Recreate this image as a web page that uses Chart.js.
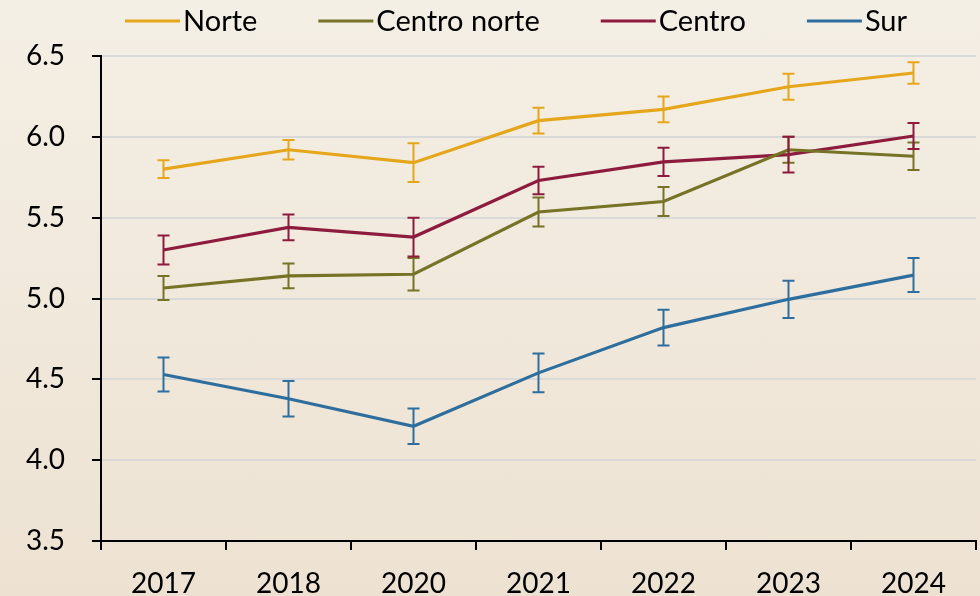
<!DOCTYPE html>
<html lang="es">
<head>
  <meta charset="UTF-8" />
  <title>Norte / Centro norte / Centro / Sur</title>
  <script src="https://cdn.jsdelivr.net/npm/chart.js"></script>
  <style>
    html, body {
      margin: 0;
      padding: 0;
    }
    body {
      width: 980px;
      height: 596px;
      background: linear-gradient(to bottom, #f4efe5 0%, #ede2d2 100%);
      overflow: hidden;
    }
    #wrap {
      position: relative;
      width: 980px;
      height: 596px;
    }
  </style>
</head>
<body>
  <div id="wrap"><canvas id="chart"></canvas></div>

  <script>
    const years = ['2017', '2018', '2020', '2021', '2022', '2023', '2024'];

    const norte = [5.80, 5.92, 5.84, 6.10, 6.17, 6.31, 6.395];
    const norteErr = [0.055, 0.06, 0.12, 0.08, 0.08, 0.08, 0.067];

    const centroNorte = [5.065, 5.14, 5.15, 5.535, 5.60, 5.92, 5.88];
    const centroNorteErr = [0.074, 0.077, 0.10, 0.09, 0.09, 0.08, 0.085];

    const centro = [5.30, 5.44, 5.38, 5.73, 5.845, 5.89, 6.005];
    const centroErr = [0.09, 0.08, 0.12, 0.085, 0.087, 0.11, 0.08];

    const sur = [4.53, 4.38, 4.21, 4.54, 4.82, 4.995, 5.145];
    const surErr = [0.105, 0.11, 0.11, 0.12, 0.11, 0.115, 0.105];

    const FONT = "Lato, 'Open Sans', sans-serif";

    function series(label, data, err, color) {
      return {
        label,
        data,
        err,
        borderColor: color,
        backgroundColor: color,
        borderWidth: 3.2,
        pointRadius: 0,
        pointHoverRadius: 0,
        tension: 0,
        fill: false
      };
    }

    // vertical error bars with small caps
    const errorBars = {
      id: 'errorBars',
      afterDatasetsDraw(chart) {
        const ctx = chart.ctx;
        const y = chart.scales.y;
        chart.data.datasets.forEach((ds, i) => {
          const meta = chart.getDatasetMeta(i);
          ctx.save();
          ctx.strokeStyle = ds.borderColor;
          ctx.lineWidth = 2;
          meta.data.forEach((pt, j) => {
            const v = ds.data[j];
            const e = ds.err[j];
            const top = y.getPixelForValue(v + e);
            const bot = y.getPixelForValue(v - e);
            const x = pt.x;
            ctx.beginPath();
            ctx.moveTo(x, top);
            ctx.lineTo(x, bot);
            ctx.moveTo(x - 6, top);
            ctx.lineTo(x + 6, top);
            ctx.moveTo(x - 6, bot);
            ctx.lineTo(x + 6, bot);
            ctx.stroke();
          });
          ctx.restore();
        });
      }
    };

    // legend drawn by hand: short line, small gap, label
    const lineLegend = {
      id: 'lineLegend',
      afterDraw(chart) {
        const ctx = chart.ctx;
        let x = chart.chartArea.left + 24;
        const y = 21;
        ctx.save();
        ctx.font = '29px ' + FONT;
        ctx.textBaseline = 'middle';
        ctx.textAlign = 'left';
        chart.data.datasets.forEach(ds => {
          ctx.strokeStyle = ds.borderColor;
          ctx.lineWidth = 3;
          ctx.beginPath();
          ctx.moveTo(x, y);
          ctx.lineTo(x + 55, y);
          ctx.stroke();
          x += 58;
          ctx.fillStyle = '#000';
          ctx.fillText(ds.label, x, y + 1);
          x += ctx.measureText(ds.label).width + 61;
        });
        ctx.restore();
      }
    };

    new Chart(document.getElementById('chart'), {
      type: 'line',
      data: {
        labels: years,
        datasets: [
          series('Norte', norte, norteErr, '#e5a61b'),
          series('Centro norte', centroNorte, centroNorteErr, '#767327'),
          series('Centro', centro, centroErr, '#8c1b3d'),
          series('Sur', sur, surErr, '#2e6e9e')
        ]
      },
      options: {
        responsive: true,
        maintainAspectRatio: false,
        animation: false,
        layout: {
          padding: { left: 0, right: 4, top: 56, bottom: 0 }
        },
        plugins: {
          tooltip: { enabled: false },
          legend: { display: false }
        },
        scales: {
          x: {
            offset: true,
            afterFit: s => { s.height = 55; },
            grid: {
              offset: true,
              drawOnChartArea: false,
              tickLength: 9,
              tickColor: '#000',
              lineWidth: 2
            },
            border: { color: '#000', width: 2 },
            ticks: {
              color: '#000',
              font: { family: FONT, size: 28 },
              padding: 17
            }
          },
          y: {
            min: 3.5,
            max: 6.5,
            afterFit: s => { s.width = 101; },
            grid: {
              color: '#d9d9d9',
              lineWidth: 2,
              tickLength: 9,
              tickColor: '#000'
            },
            border: { color: '#000', width: 2 },
            ticks: {
              stepSize: 0.5,
              color: '#000',
              font: { family: FONT, size: 28 },
              padding: 27,
              callback: v => v.toFixed(1)
            }
          }
        }
      },
      plugins: [errorBars, lineLegend]
    });
  </script>
</body>
</html>
